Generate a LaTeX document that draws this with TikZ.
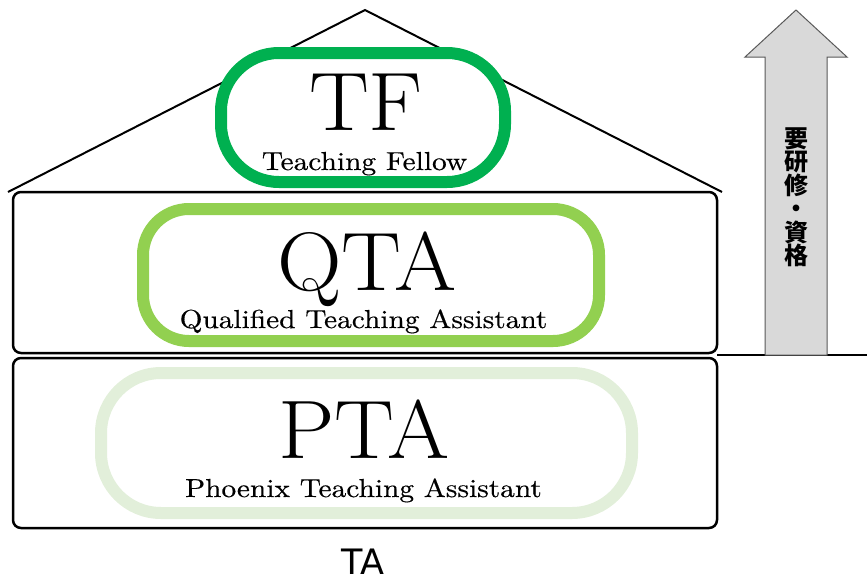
\documentclass[tikz,border=0pt]{standalone}
\usepackage{fontspec}
\newfontfamily\jpfont{Noto Sans CJK JP}
\newfontfamily\tafont{DejaVu Sans}
\newfontfamily\titlefont{lmroman17-regular.otf}[FakeStretch=1.08]
\newfontfamily\namefont{lmroman10-regular.otf}[FakeStretch=1.13,FakeBold=0.4]
\usetikzlibrary{positioning}
\definecolor{tfgreen}{HTML}{00B050}
\definecolor{qtagreen}{HTML}{92D050}
\definecolor{ptagreen}{HTML}{E2EFDA}
\definecolor{arrowgray}{HTML}{D9D9D9}
\definecolor{arrowline}{HTML}{595959}
\tikzset{
  level/.style={draw,line width=2.5pt,rounded corners=8pt},
  ring/.style={draw=#1,fill=white,line width=12pt,inner sep=0pt},
  title/.style={font=\titlefont\fontsize{83}{83}\selectfont,inner sep=0pt,anchor=base},
  subtitle/.style={font=\namefont\fontsize{26}{26}\selectfont,inner sep=0pt,anchor=base},
}

\begin{document}
\begin{tikzpicture}[x=1pt,y=-1pt]
  \useasboundingbox (0,0) rectangle (867,581);
  % levels
  \draw [level] (13,192) rectangle (717,353);
  \draw [level] (13,358) rectangle (717,528);
  % roof
  \draw [line width=2pt]
    (8,192) coordinate (roofleft)
    -- (365,10) coordinate (roofapex)
    -- (722,192) coordinate (roofright)
  ;
  % ground line
  \draw [line width=2.5pt] (717,355) -- (867,355);
  % requirement arrow
  \draw [draw=arrowline,fill=arrowgray,line width=1pt]
    (765,355) -- (765,57) -- (745,57) -- (796,10)
    -- (847,57) -- (827,57) -- (827,355) -- cycle
  ;
  \node [font=\jpfont\bfseries\fontsize{24}{23.5}\selectfont,align=center,inner sep=0pt]
    (require) at (796,197) {要\\研\\修\\・\\資\\格};
  % TF
  \node [ring=tfgreen,rounded corners=58pt,minimum width=284pt,minimum height=129pt]
    (tfring) at (363,117.5) {};
  \node [title] (tf) at (366,130) {TF};
  \node [subtitle] (tfname) at (364.5,170) {Teaching Fellow};
  % QTA
  \node [ring=qtagreen,rounded corners=46pt,minimum width=456pt,minimum height=132pt]
    (qtaring) at (371,275) {};
  \node [title] (qta) at (367,290) {QTA};
  \node [subtitle] (qtaname) at (363.5,328) {Qualified Teaching Assistant};
  % PTA
  \node [ring=ptagreen,rounded corners=60pt,minimum width=531pt,minimum height=140pt]
    (ptaring) at (366.5,443) {};
  \node [title] (pta) at (364,458) {PTA};
  \node [subtitle] (ptaname) at (363.5,497) {Phoenix Teaching Assistant};
  % TA
  \node [font=\tafont\fontsize{35}{35}\selectfont,inner sep=0pt,anchor=base]
    (ta) at (363,574) {TA};
\end{tikzpicture}
\end{document}
